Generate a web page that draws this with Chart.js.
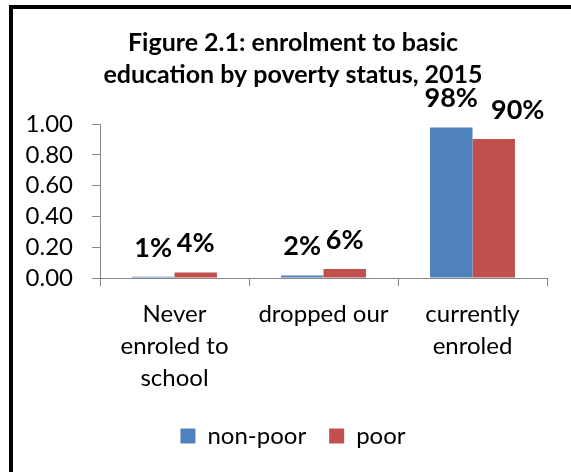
<!DOCTYPE html>
<html>
<head>
<meta charset="utf-8">
<script src="https://cdn.jsdelivr.net/npm/chart.js@4.4.0/dist/chart.umd.min.js"></script>
<style>
  html, body { margin: 0; padding: 0; background: #fff; overflow: hidden; }
  #wrap { position: relative; width: 571px; height: 472px; }
  #frame { position: absolute; left: 9px; top: 5px; width: 600px; height: 500px; border-left: 4px solid #000; border-top: 4px solid #000; }
  canvas { position: absolute; left: 0; top: 0; }
</style>
</head>
<body>
<div id="wrap">
  <div id="frame"></div>
  <canvas id="chart" width="571" height="472"></canvas>
</div>
<script>
// data
const categories = [['Never', 'enroled to', 'school'], ['dropped our'], ['currently', 'enroled']];
const nonPoor = [0.008, 0.017, 0.978];
const poor = [0.036, 0.058, 0.902];
const yTicks = [0, 0.2, 0.4, 0.6, 0.8, 1.0];

const axisGray = '#868686';
const font = 'Lato';

// percent labels above the bars, nudged right if they bump into the previous one
const barLabels = {
  id: 'barLabels',
  afterDatasetsDraw(chart) {
    const ctx = chart.ctx;
    const placed = [];
    ctx.save();
    ctx.font = 'bold 27px ' + font;
    ctx.fillStyle = '#000';
    ctx.textAlign = 'left';
    ctx.textBaseline = 'alphabetic';
    chart.data.labels.forEach((_, i) => {
      chart.data.datasets.forEach((ds, d) => {
        const bar = chart.getDatasetMeta(d).data[i];
        const text = Math.round(ds.data[i] * 100) + '%';
        const w = ctx.measureText(text).width;
        let x = bar.x - w / 2;
        const y = bar.y - 20;
        const prev = placed[placed.length - 1];
        if (prev && x < prev.right && Math.abs(y - prev.y) < 20) x = prev.right + 13;
        ctx.fillText(text, x, y);
        placed.push({ right: x + w, y: y });
      });
    });
    ctx.restore();
  }
};

const ctx = document.getElementById('chart').getContext('2d');
new Chart(ctx, {
  type: 'bar',
  data: {
    labels: categories,
    datasets: [
      { label: 'non-poor', data: nonPoor, backgroundColor: '#4F81BD' },
      { label: 'poor', data: poor, backgroundColor: '#C0504D' }
    ]
  },
  options: {
    responsive: false,
    animation: false,
    layout: { padding: { left: 15, right: 0, top: 0, bottom: 14 } },
    datasets: { bar: { categoryPercentage: 0.57, barPercentage: 1.0 } },
    scales: {
      x: {
        grid: { drawOnChartArea: false, tickLength: 8, color: axisGray, offset: true },
        border: { color: axisGray },
        ticks: {
          color: '#000', padding: 12, maxRotation: 0, autoSkip: false,
          font: { family: font, size: 24, lineHeight: '32px' }
        },
        afterFit(scale) { scale.height = 123; }
      },
      y: {
        min: 0, max: 1,
        afterBuildTicks(scale) { scale.ticks = yTicks.map(v => ({ value: v })); },
        grid: { drawOnChartArea: false, tickLength: 8, color: axisGray },
        border: { color: axisGray },
        ticks: {
          color: '#000', padding: 19, autoSkip: false,
          font: { family: font, size: 24, lineHeight: 1 },
          callback: v => v.toFixed(2)
        },
        afterFit(scale) { scale.width = 85; }
      },
      // empty right-hand axis, only keeps the plot clear of the right edge
      spacer: {
        type: 'linear', position: 'right',
        grid: { display: false }, border: { display: false }, ticks: { display: false },
        afterFit(scale) { scale.width = 24; }
      }
    },
    plugins: {
      title: {
        display: true,
        text: ['Figure 2.1: enrolment to basic', 'education by poverty status, 2015'],
        color: '#000',
        font: { family: font, size: 25, weight: 'bold', lineHeight: '32px' },
        padding: { top: 27, bottom: 33 }
      },
      legend: {
        position: 'bottom',
        labels: {
          color: '#000', boxWidth: 15, boxHeight: 15, padding: 23,
          font: { family: font, size: 24 }
        }
      },
      tooltip: { enabled: false }
    }
  },
  plugins: [barLabels]
});
</script>
</body>
</html>
